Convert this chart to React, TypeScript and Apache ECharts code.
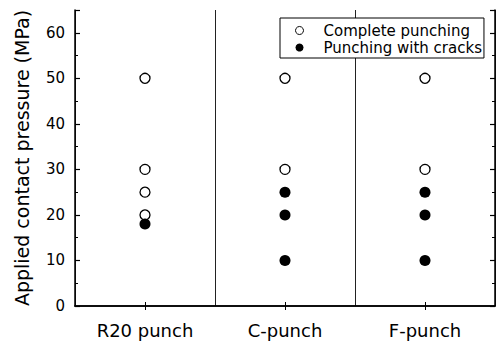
import React, { useEffect, useRef } from "react";
import * as echarts from "echarts";

const categories = ["R20 punch", "C-punch", "F-punch"];
const completeValues = [[50, 30, 25, 20], [50, 30], [50, 30]];
const crackValues = [[18], [25, 20, 10], [25, 20, 10]];
const yTicks = { min: 0, max: 65, interval: 10 };

const FONT = "DejaVu Sans";

export default function App() {
  const ref = useRef<HTMLDivElement>(null);
  useEffect(() => {
    if (!ref.current) return;
    const chart = echarts.init(ref.current, undefined, { renderer: "svg" });
    const completeData: number[][] = [];
    completeValues.forEach((vals, i) => vals.forEach((v) => completeData.push([i, v])));
    const crackData: number[][] = [];
    crackValues.forEach((vals, i) => vals.forEach((v) => crackData.push([i, v])));

    const yCommon = {
      type: "value" as const,
      min: yTicks.min,
      max: yTicks.max,
      interval: yTicks.interval,
      axisLine: { show: true, lineStyle: { color: "#000", width: 1.5 } },
      axisTick: { show: true, inside: true, length: 5, lineStyle: { color: "#000", width: 1.2 } },
      minorTick: { show: true, splitNumber: 2, length: 3, lineStyle: { color: "#000", width: 1 } },
      splitLine: { show: false },
    };

    chart.setOption({
      animation: false,
      backgroundColor: "#fff",
      grid: { left: 75, right: 6, top: 10, bottom: 35 },
      legend: {
        left: 280,
        top: 18,
        orient: "vertical",
        itemWidth: 8,
        itemHeight: 8,
        itemGap: 2,
        padding: [5, 2, 3, 15],
        borderColor: "#000",
        borderWidth: 1,
        backgroundColor: "#fff",
        textStyle: { fontFamily: FONT, fontSize: 15, color: "#000", padding: [0, 0, 0, 15] },
        data: [
          { name: "Complete punching", icon: "circle", itemStyle: { color: "#fff", borderColor: "#000", borderWidth: 1 } },
          { name: "Punching with cracks", icon: "circle", itemStyle: { color: "#000" } },
        ],
      },
      xAxis: [
        {
          type: "category",
          data: categories,
          boundaryGap: true,
          axisLine: { show: true, lineStyle: { color: "#000", width: 1.5 } },
          axisTick: { show: true, inside: true, alignWithLabel: true, length: 4, lineStyle: { color: "#000" } },
          axisLabel: { fontFamily: FONT, fontSize: 18, color: "#000", margin: 15 },
          splitLine: { show: true, lineStyle: { color: "#222", width: 1 } },
        },
        {
          type: "category",
          data: categories,
          position: "top",
          boundaryGap: true,
          axisLine: { show: true, lineStyle: { color: "#000", width: 1.5 } },
          axisTick: { show: true, inside: true, alignWithLabel: true, length: 4, lineStyle: { color: "#000" } },
          axisLabel: { show: false },
          splitLine: { show: false },
        },
      ],
      yAxis: [
        {
          ...yCommon,
          name: "Applied contact pressure (MPa)",
          nameLocation: "middle",
          nameGap: 44,
          nameTextStyle: { fontFamily: FONT, fontSize: 19, color: "#000" },
          axisLabel: { fontFamily: FONT, fontSize: 15, color: "#000", margin: 10, showMaxLabel: false },
        },
        {
          ...yCommon,
          position: "right",
          axisLabel: { show: false },
        },
      ],
      series: [
        {
          name: "Complete punching",
          type: "scatter",
          data: completeData,
          symbol: "circle",
          symbolSize: 10,
          itemStyle: { color: "#fff", borderColor: "#000", borderWidth: 1.3, opacity: 1 },
          z: 3,
        },
        {
          name: "Punching with cracks",
          type: "scatter",
          data: crackData,
          symbol: "circle",
          symbolSize: 11,
          itemStyle: { color: "#000", opacity: 1 },
          z: 4,
        },
      ],
    });
    return () => chart.dispose();
  }, []);
  return (
    <div
      ref={ref}
      style={{ position: "absolute", left: 0, top: 0, width: 501, height: 341 }}
    />
  );
}
